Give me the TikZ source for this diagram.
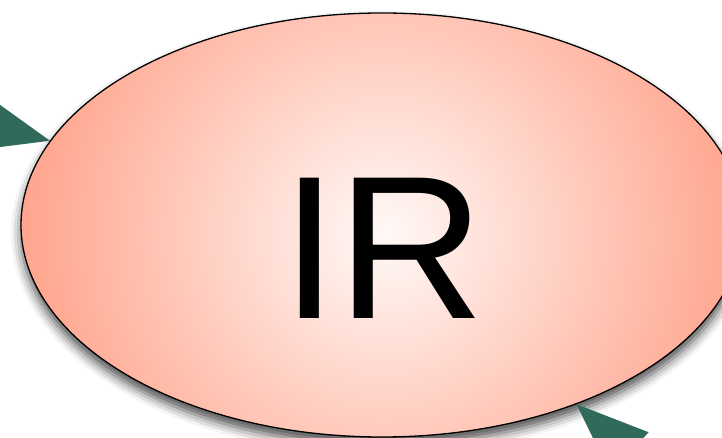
\documentclass[tikz,border=0pt]{standalone}
\usepackage{fontspec}
\newfontfamily\irfont{Liberation Sans}
\usetikzlibrary{arrows.meta, positioning, shapes.geometric, shadows.blur}
\definecolor{salmon}{RGB}{255,164,140}
\definecolor{blush}{RGB}{255,249,247}
\definecolor{pine}{HTML}{2F6A5A}

\begin{document}
\begin{tikzpicture}[x=1pt, y=1pt, >={Triangle[length=72pt, width=56pt]},
  feed/.style={pine, line width=2pt, ->}]

% Frame
\useasboundingbox (0,0) rectangle (722,438);
\clip (0,0) rectangle (722,438);

% Node: IR
\node[ellipse, draw=black, line width=1.3pt, minimum width=722pt, minimum height=424pt,
  inner sep=0pt,
  path picture={\shade[inner color=blush, outer color=salmon]
    ([shift={(2,-10)}]path picture bounding box.center) circle (365pt);},
  blur shadow={shadow xshift=0pt, shadow yshift=-8pt, shadow blur radius=10pt, shadow opacity=70}]
  (ir) at (382,213) {};
\node[font=\irfont\fontsize{204}{204}\selectfont, inner sep=0pt] (irlabel)
  at ([shift={(1,-23)}]ir.center) {IR};

% Incoming arrows
\coordinate (srcnw) at (-146,347);
\coordinate (srcse) at (700,-80);
\draw[feed] (srcnw) -- (ir);
\draw[feed] (srcse) -- (ir);

\end{tikzpicture}
\end{document}
